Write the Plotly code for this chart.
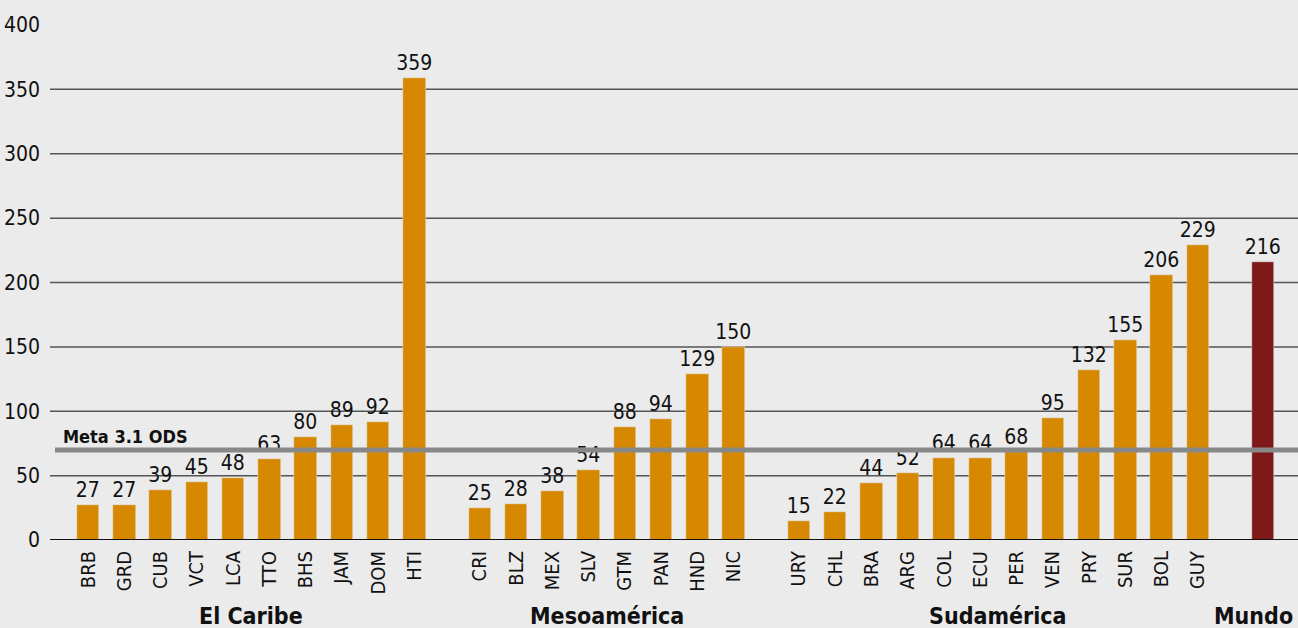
import plotly.graph_objects as go

# data
caribe = ["BRB", "GRD", "CUB", "VCT", "LCA", "TTO", "BHS", "JAM", "DOM", "HTI"]
caribe_vals = [27, 27, 39, 45, 48, 63, 80, 89, 92, 359]
meso = ["CRI", "BLZ", "MEX", "SLV", "GTM", "PAN", "HND", "NIC"]
meso_vals = [25, 28, 38, 54, 88, 94, 129, 150]
sud = ["URY", "CHL", "BRA", "ARG", "COL", "ECU", "PER", "VEN", "PRY", "SUR", "BOL", "GUY"]
sud_vals = [15, 22, 44, 52, 64, 64, 68, 95, 132, 155, 206, 229]
mundo = ["Mundo"]
mundo_vals = [216]
group_names = ["El Caribe", "Mesoamérica", "Sudamérica", "Mundo"]
meta_ods = 70
y_ticks = [0, 50, 100, 150, 200, 250, 300, 350, 400]

FONT = "DejaVu Sans Condensed, DejaVu Sans, sans-serif"
ORANGE = "#D68800"
RED = "#7F1818"
GAP = 0.8


def f(size, weight="normal"):
    return dict(family=FONT, size=size, color="#111", weight=weight)


groups = [(caribe, caribe_vals), (meso, meso_vals), (sud, sud_vals)]

# positions: one slot per bar, with an extra gap between groups
xs, names, vals, centers = [], [], [], []
pos = 0.0
for cats, v in groups:
    start = pos
    for c, val in zip(cats, v):
        xs.append(pos)
        names.append(c)
        vals.append(val)
        pos += 1
    centers.append((start + pos - 1) / 2)
    pos += GAP
mundo_x = [pos]

fig = go.Figure()
fig.add_trace(go.Bar(
    x=xs, y=vals, width=0.62, marker_color=ORANGE,
    text=[str(v) for v in vals], textposition="outside", cliponaxis=False,
    constraintext="none", textfont=f(21),
))
fig.add_trace(go.Bar(
    x=mundo_x, y=mundo_vals, width=0.62, marker_color=RED,
    text=[str(v) for v in mundo_vals], textposition="outside", cliponaxis=False,
    constraintext="none", textfont=f(21),
))

# gridlines (no line at 400)
for t in y_ticks[1:-1]:
    fig.add_shape(type="line", xref="paper", x0=0, x1=1, yref="y", y0=t, y1=t,
                  line=dict(color="#555", width=1.5), layer="below")

# ODS target line
fig.add_shape(type="line", xref="paper", x0=0.004, x1=1, yref="y", y0=meta_ods, y1=meta_ods,
              line=dict(color="#888", width=5))
fig.add_annotation(x=0.009, xref="paper", y=meta_ods, yref="y", text="Meta 3.1 ODS",
                   showarrow=False, xanchor="left", yanchor="bottom", yshift=1,
                   font=f(18, "bold"))

for name, cx in zip(group_names[:3], centers):
    fig.add_annotation(x=cx, xref="x", y=-0.118, yref="paper", text=name,
                       showarrow=False, xanchor="center", yanchor="top",
                       font=f(23, "bold"))
fig.add_annotation(x=1, xref="paper", xshift=-3, y=-0.118, yref="paper", text=group_names[3],
                   showarrow=False, xanchor="right", yanchor="top", font=f(23, "bold"))

fig.update_layout(
    width=1298, height=628,
    margin=dict(l=50, r=0, t=25, b=88),
    paper_bgcolor="#EBEBEB", plot_bgcolor="#EBEBEB",
    showlegend=False, bargap=0,
    xaxis=dict(
        range=[-1.05, mundo_x[0] + 0.96],
        tickvals=xs + mundo_x, ticktext=names + [""],
        tickangle=-90, showgrid=False, zeroline=False, ticks="",
        ticklabelstandoff=6, tickfont=f(20),
    ),
    yaxis=dict(
        range=[0, 400], tickvals=y_ticks, showgrid=False, zeroline=False,
        showline=False, ticks="", ticklabelstandoff=9,
        tickfont=f(21),
    ),
)
fig.add_shape(type="line", xref="paper", x0=0, x1=1, yref="y", y0=0, y1=0,
              line=dict(color="#111", width=2))

css = ("document.body.style.margin='0';"
       "var s=document.createElement('style');"
       "s.textContent='text{font-stretch:condensed;}';"
       "document.head.appendChild(s);")
fig.write_html("out.html", post_script=css, config={"displayModeBar": False})
